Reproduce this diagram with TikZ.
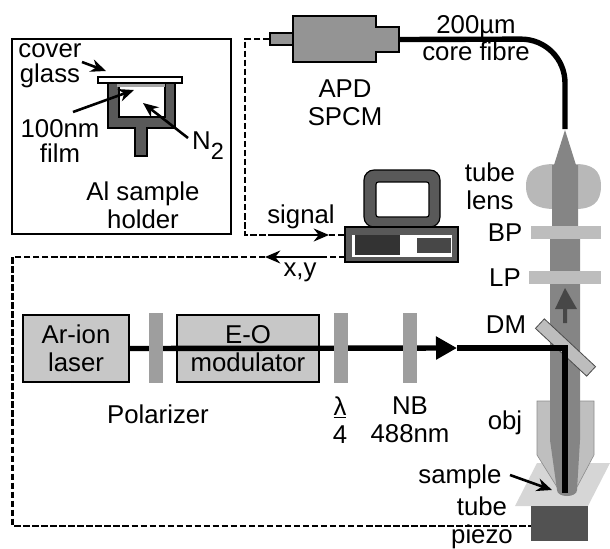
\documentclass[tikz,border=0pt]{standalone}
\usepackage{fontspec}
\setmainfont{Liberation Sans}
\usetikzlibrary{arrows.meta}
\tikzset{
  lbl/.style={font=\fontsize{22}{24}\selectfont,align=center,inner sep=0pt},
  devbox/.style={draw=black,line width=1.6pt,fill=black!22,inner sep=0pt},
  plate/.style={fill=black!38,inner sep=0pt},
  filter/.style={fill=black!26,inner sep=0pt},
  darkfill/.style={fill=black!65,draw=black,line width=1pt,inner sep=0pt},
  signalline/.style={line width=1.8pt,dash pattern=on 5.5pt off 2.2pt},
  thinarrow/.style={line width=2.2pt,-{Stealth[length=13pt,width=11pt]}},
  beam/.style={line width=4.6pt}
}
\begin{document}
\begin{tikzpicture}[x=0.03cm,y=-0.03cm]
  \useasboundingbox (0,0) rectangle (610,548);

  % inset
  \node (inset)[draw=black,line width=1.3pt,minimum width=219*0.03cm,minimum height=195*0.03cm,inner sep=0pt] at (121.5,136.5) {};
  \draw[black,fill=black!65,line width=1.2pt] (108,83) -- (108,128) -- (135,128) -- (135,156) -- (147,156) -- (147,128) -- (175,128) -- (175,83)
    -- (165,83) -- (165,117) -- (119,117) -- (119,83) -- cycle;
  \node (film)[filter,fill=black!35,minimum width=48*0.03cm,minimum height=6*0.03cm] at (141,84) {};
  \node (glass)[draw=black,fill=white,line width=1.6pt,minimum width=84*0.03cm,minimum height=6*0.03cm,inner sep=0pt] at (140,80) {};
  \node (coverlbl)[lbl] at (50,66) {cover\\[-3pt]glass};
  \node (filmlbl)[lbl] at (60,141) {100nm\\[-3pt]film};
  \node (nlbl)[lbl] at (208,146) {N\raisebox{-.38em}{\fontsize{20}{20}\selectfont 2}};
  \node (holderlbl)[lbl] at (143,205) {Al sample\\holder};
  \coordinate (c1) at (82,62);
  \coordinate (c2) at (106,71);
  \coordinate (f1) at (73,112);
  \coordinate (f2) at (134,90);
  \coordinate (n1) at (188,138);
  \coordinate (n2) at (143,103);
  \foreach \from/\to in {c1/c2,f1/f2,n1/n2}
    \draw[thinarrow] (\from) -- (\to);

  % APD and fibre
  \node (apdl)[darkfill,fill=black!42,minimum width=129*0.03cm,minimum height=12*0.03cm] at (334.5,39) {};
  \node (apdr)[darkfill,fill=black!42,minimum width=40*0.03cm,minimum height=25*0.03cm] at (379,39.5) {};
  \node (apd)[darkfill,fill=black!42,minimum width=83*0.03cm,minimum height=46*0.03cm] at (334.5,39) {};
  \fill[black!42] (293.5,33.8) rectangle (375.5,44.2);
  \fill[black!42] (370,28.2) rectangle (398,50.8);
  \node (fibreend) at (565,130) [inner sep=0pt] {};
  \draw[line width=4.6pt,rounded corners=44*0.03cm] (apdr.east) -- (565,39) -- (fibreend);
  \node (apdlbl)[lbl] at (345,102.5) {APD\\SPCM};
  \node (fibrelbl)[lbl] at (476,38.5) {200µm\\[-1pt]core fibre};

  % computer
  \node (monitor)[darkfill,rounded corners=10*0.03cm,minimum width=76*0.03cm,minimum height=57*0.03cm] at (402,198.5) {};
  \node (screen)[draw=black,line width=1pt,fill=white,rounded corners=2pt,minimum width=53*0.03cm,minimum height=35*0.03cm,inner sep=0pt] at (402.5,199.5) {};
  \node (pc)[darkfill,minimum width=113*0.03cm,minimum height=35*0.03cm] at (401.5,244.5) {};
  \node (pcslot)[fill=white,minimum width=100*0.03cm,minimum height=22*0.03cm,inner sep=0pt] at (402,246) {};
  \node (pcdrive)[fill=black!80,minimum width=45*0.03cm,minimum height=20*0.03cm,inner sep=0pt] at (377.5,245) {};
  \node (pcdisk)[fill=black!72,minimum width=34*0.03cm,minimum height=15*0.03cm,inner sep=0pt] at (434,245.5) {};

  % control lines
  \coordinate (sa) at (245,39);
  \coordinate (sb) at (245,235);
  \coordinate (sc) at (268,235);
  \coordinate (sd) at (329,235);
  \coordinate (xa) at (327,257);
  \coordinate (xb) at (265,257);
  \coordinate (xc) at (12.5,257);
  \coordinate (xd) at (12.5,526);
  \coordinate (pcsig) at (345,235);
  \coordinate (pcxy) at (345,257);
  \draw[signalline] (apdl.west) -- (sa) -- (sb) -- (sc);
  \draw[signalline] (sd) -- (pcsig);
  \draw[thinarrow] (sc) -- (sd);
  \draw[signalline] (pcxy) -- (xa);
  \draw[thinarrow] (xa) -- (xb);
  \node (siglbl)[lbl] at (301,217) {signal};
  \node (xylbl)[lbl] at (300,272) {x,y};

  % sample stage
  \fill[black!16] (515,506) -- (588,506) -- (610,463) -- (537,463) -- cycle;
  \node (piezo)[fill=black!68,inner sep=0pt,minimum width=57*0.03cm,minimum height=35*0.03cm] at (559.5,523.5) {};
  \draw[signalline] (xb) -- (xc) -- (xd) -- (piezo.west |- xd);

  % microscope body
  \fill[black!25,draw=black!45,line width=.5pt] (537,401) -- (594,401) -- (594,455) -- (577,487) -- (557,487) -- (537,455) -- cycle;
  \fill[black!28] (526,186) .. controls (526,170) and (536,164) .. (555,164) -- (575,164)
    .. controls (592,164) and (601,170) .. (601,186) .. controls (601,203) and (592,209) .. (575,209) -- (555,209)
    .. controls (536,209) and (526,203) .. (526,186) -- cycle;
  \fill[black!48] (565,130) -- (554,165) -- (552,165) -- (552,239) -- (550,239) -- (550,440) -- (557,490) .. controls (557,498) and (577,498) .. (577,490)
    -- (580,440) -- (580,239) -- (578,239) -- (578,165) -- (576,165) -- cycle;
  \fill[black!72] (565,288) -- (577,309) -- (567,309) -- (567,323) -- (563,323) -- (563,309) -- (555,309) -- cycle;
  \node (bp)[filter,minimum width=70*0.03cm,minimum height=13*0.03cm] at (566,232.5) {};
  \node (lp)[filter,minimum width=72*0.03cm,minimum height=13*0.03cm] at (565,277.5) {};
  \node (dm)[filter,draw=black!70,line width=.7pt,rotate=-43,minimum width=70*0.03cm,minimum height=13*0.03cm] at (565.5,347.5) {};

  % laser path
  \node (laser)[devbox,minimum width=106*0.03cm,minimum height=67*0.03cm] at (76,348.5) {};
  \node (eom)[devbox,minimum width=142*0.03cm,minimum height=67*0.03cm] at (248,348.5) {};
  \coordinate (tip) at (457,348);
  \coordinate (corner) at (565,348);
  \coordinate (focus) at (565,493);
  \draw[beam,-{Triangle[length=21*0.03cm,width=22*0.03cm]}] (laser.east) -- (tip);
  \draw[beam] (tip) -- (corner) -- (focus);
  \node (pol)[plate,minimum width=14*0.03cm,minimum height=70*0.03cm] at (156,348) {};
  \node (wave)[plate,minimum width=14*0.03cm,minimum height=70*0.03cm] at (341,348) {};
  \node (nb)[plate,minimum width=14*0.03cm,minimum height=70*0.03cm] at (410,348) {};

  \node (laserlbl)[lbl] at (76,348.5) {Ar-ion\\laser};
  \node (eomlbl)[lbl] at (248,348.5) {E-O\\modulator};
  \node (pollbl)[lbl] at (158,414) {Polarizer};
  \node (wavelbl)[lbl] at (340,420) {\underline{λ}\\4};
  \node (nblbl)[lbl] at (410,420) {NB\\488nm};
  \node (tubelbl)[lbl] at (490,186) {tube\\lens};
  \node (bplbl)[lbl] at (505,233) {BP};
  \node (lplbl)[lbl] at (505,278) {LP};
  \node (dmlbl)[lbl] at (506,325) {DM};
  \node (objlbl)[lbl] at (505,423) {obj};
  \node (samplelbl)[lbl] at (460,477) {sample};
  \node (piezolbl)[lbl] at (482,523) {tube\\piezo};
  \coordinate (s1) at (510,475);
  \coordinate (s2) at (552,490);
  \draw[thinarrow] (s1) -- (s2);
\end{tikzpicture}
\end{document}
